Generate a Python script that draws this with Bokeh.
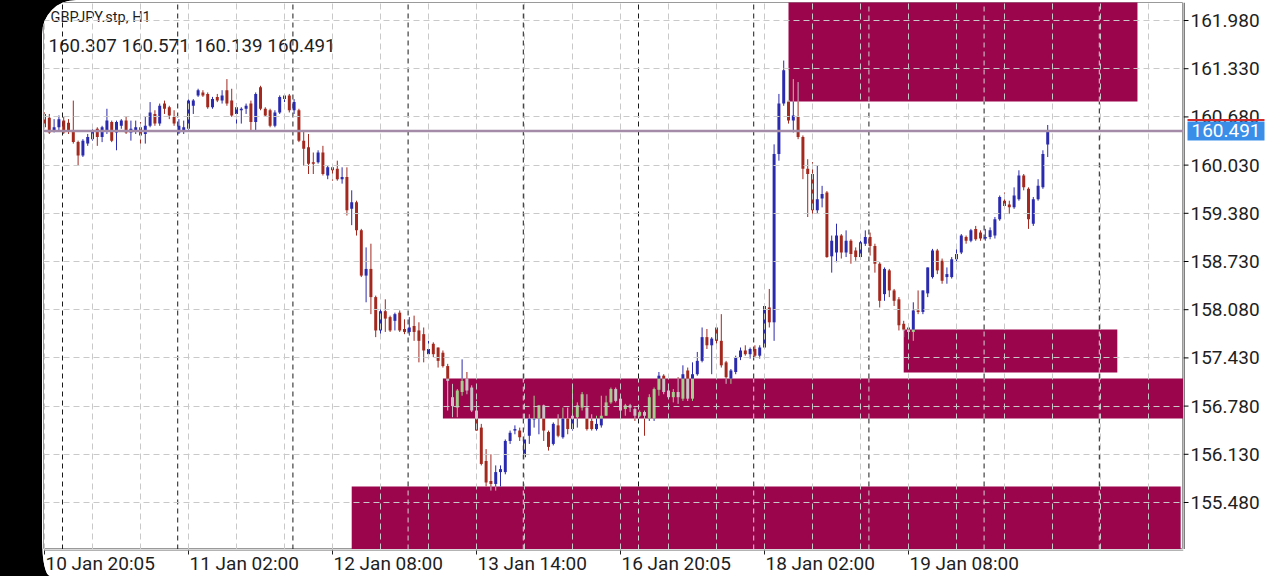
from bokeh.plotting import figure
from bokeh.models import (FixedTicker, Span, Range1d, ColumnDataSource, Spacer)
from bokeh.core.properties import value
from bokeh.layouts import row, column
from bokeh.embed import file_html
from bokeh.resources import INLINE

# ---------------- data ----------------
symbol = "GBPJPY.stp, H1"

opens = [160.72, 160.67, 160.50, 160.54, 160.63, 160.60, 160.50, 160.34, 160.16, 160.32,
         160.38, 160.52, 160.41, 160.50, 160.61, 160.47, 160.56, 160.63, 160.47, 160.50,
         160.54, 160.45, 160.56, 160.72, 160.59, 160.86, 160.81, 160.68, 160.47, 160.50,
         160.52, 160.83, 160.97, 161.01, 160.99, 160.81, 160.95, 160.90, 161.04, 160.90,
         160.72, 160.77, 160.79, 160.86, 160.61, 161.08, 160.79, 160.77, 160.56, 160.74,
         160.92, 160.97, 160.77, 160.77, 160.36, 160.27, 160.07, 160.07, 160.20, 159.89,
         160.00, 159.98, 159.84, 159.87, 159.44, 159.53, 159.15, 158.54, 158.63, 158.25,
         157.80, 158.06, 157.98, 157.93, 158.04, 157.82, 157.78, 157.86, 157.80, 157.75,
         157.48, 157.62, 157.57, 157.50, 157.32, 156.90, 156.76, 156.97, 157.15, 157.03,
         156.72, 156.49, 156.04, 155.77, 155.73, 155.89, 155.89, 156.31, 156.45, 156.45,
         156.09, 156.38, 156.60, 156.61, 156.79, 156.43, 156.27, 156.52, 156.36, 156.61,
         156.47, 156.63, 156.76, 156.76, 156.58, 156.47, 156.52, 156.65, 156.83, 157.01,
         156.88, 156.74, 156.79, 156.74, 156.65, 156.70, 156.61, 156.61, 157.00, 157.19,
         156.99, 156.90, 156.97, 156.88, 157.26, 156.88, 157.21, 157.39, 157.71, 157.60,
         157.84, 157.66, 157.37, 157.15, 157.24, 157.44, 157.53, 157.48, 157.55, 157.46,
         157.57, 158.11, 157.91, 160.18, 160.86, 160.90, 160.63, 160.68, 160.41, 159.98,
         159.91, 159.42, 159.58, 159.66, 158.80, 158.85, 159.08, 158.85, 159.01, 158.88,
         158.79, 158.97, 159.06, 158.94, 158.70, 158.29, 158.61, 158.34, 158.22, 157.89,
         157.84, 157.78, 158.07, 158.05, 158.30, 158.52, 158.88, 158.74, 158.52, 158.52,
         158.76, 158.85, 159.06, 159.01, 159.17, 159.12, 159.04, 159.06, 159.08, 159.30,
         159.55, 159.50, 159.46, 159.57, 159.89, 159.71, 159.24, 159.57, 159.73, 160.307]

highs = [160.74, 160.72, 160.65, 160.70, 160.68, 160.65, 160.90, 160.36, 160.38, 160.45,
         160.52, 160.54, 160.56, 160.79, 160.63, 160.63, 160.65, 160.68, 160.63, 160.63,
         160.61, 160.68, 160.88, 160.77, 160.86, 160.90, 160.83, 160.77, 160.65, 160.63,
         160.92, 160.92, 161.06, 161.04, 161.01, 160.95, 160.99, 161.04, 161.19, 161.06,
         160.86, 160.81, 160.86, 160.90, 161.01, 161.10, 160.81, 160.79, 160.77, 160.97,
         160.99, 160.99, 160.92, 160.79, 160.50, 160.45, 160.20, 160.23, 160.29, 160.02,
         160.02, 160.09, 160.00, 160.00, 159.69, 159.55, 159.17, 158.92, 158.97, 158.27,
         158.09, 158.22, 158.00, 158.04, 158.07, 157.95, 157.98, 158.00, 157.91, 157.84,
         157.66, 157.64, 157.57, 157.53, 157.35, 157.08, 157.01, 157.41, 157.24, 157.06,
         156.85, 156.54, 156.20, 156.13, 155.98, 155.98, 156.33, 156.45, 156.52, 156.49,
         156.40, 156.67, 156.92, 156.79, 156.80, 156.45, 156.56, 156.67, 156.76, 156.76,
         157.06, 156.83, 156.97, 156.94, 156.67, 156.65, 156.92, 156.92, 157.03, 157.03,
         156.92, 156.81, 156.81, 156.76, 156.72, 156.72, 156.94, 157.03, 157.24, 157.21,
         157.03, 157.01, 157.17, 157.33, 157.30, 157.37, 157.51, 157.84, 157.82, 157.71,
         157.87, 158.02, 157.39, 157.28, 157.46, 157.57, 157.60, 157.57, 157.60, 157.60,
         158.16, 158.36, 160.31, 160.99, 161.44, 161.31, 161.19, 161.15, 160.43, 160.11,
         160.07, 160.02, 159.75, 159.68, 159.08, 159.24, 159.10, 159.15, 159.03, 158.92,
         159.01, 159.15, 159.12, 158.97, 158.72, 158.65, 158.63, 158.36, 158.25, 157.93,
         157.89, 158.18, 158.34, 158.34, 158.65, 158.90, 158.90, 158.77, 158.65, 158.79,
         158.92, 159.10, 159.08, 159.17, 159.21, 159.15, 159.17, 159.19, 159.33, 159.62,
         159.66, 159.55, 159.73, 159.96, 159.91, 159.73, 159.60, 159.84, 160.23, 160.571]

lows = [160.52, 160.45, 160.47, 160.50, 160.45, 160.45, 160.32, 160.02, 160.14, 160.29,
        160.36, 160.29, 160.34, 160.45, 160.34, 160.23, 160.52, 160.45, 160.36, 160.45,
        160.27, 160.32, 160.54, 160.56, 160.56, 160.72, 160.65, 160.56, 160.45, 160.45,
        160.50, 160.72, 160.95, 160.95, 160.79, 160.79, 160.88, 160.86, 160.83, 160.68,
        160.54, 160.59, 160.72, 160.50, 160.50, 160.77, 160.68, 160.54, 160.54, 160.72,
        160.88, 160.74, 160.72, 160.34, 160.02, 159.91, 159.91, 160.05, 159.89, 159.84,
        159.82, 159.82, 159.78, 159.35, 159.22, 159.08, 158.52, 158.18, 158.02, 157.71,
        157.73, 157.78, 157.78, 157.80, 157.78, 157.75, 157.73, 157.66, 157.37, 157.37,
        157.44, 157.44, 157.30, 157.30, 156.72, 156.63, 156.63, 156.92, 156.94, 156.70,
        156.45, 155.98, 155.69, 155.64, 155.64, 155.69, 155.86, 156.27, 156.40, 156.31,
        156.07, 156.27, 156.49, 156.40, 156.31, 156.18, 156.25, 156.36, 156.34, 156.40,
        156.45, 156.49, 156.72, 156.45, 156.45, 156.45, 156.49, 156.65, 156.81, 156.83,
        156.65, 156.65, 156.70, 156.58, 156.63, 156.38, 156.58, 156.58, 156.92, 156.94,
        156.88, 156.83, 156.81, 156.85, 156.85, 156.85, 157.19, 157.37, 157.55, 157.21,
        157.62, 157.30, 157.08, 157.08, 157.21, 157.40, 157.46, 157.42, 157.44, 157.42,
        157.55, 157.84, 157.66, 160.09, 160.83, 160.59, 160.47, 160.38, 159.84, 159.33,
        159.33, 159.37, 159.46, 158.78, 158.58, 158.72, 158.77, 158.79, 158.70, 158.74,
        158.76, 158.94, 158.81, 158.58, 158.11, 158.20, 158.25, 158.13, 157.80, 157.71,
        157.71, 157.66, 158.02, 158.02, 158.25, 158.50, 158.56, 158.43, 158.43, 158.50,
        158.72, 158.83, 158.97, 158.99, 159.01, 159.01, 159.01, 159.03, 159.04, 159.28,
        159.48, 159.37, 159.44, 159.55, 159.69, 159.17, 159.21, 159.55, 159.71, 160.139]

closes = [160.54, 160.47, 160.54, 160.65, 160.47, 160.50, 160.34, 160.16, 160.36, 160.41,
          160.50, 160.41, 160.54, 160.63, 160.36, 160.61, 160.63, 160.47, 160.52, 160.54,
          160.43, 160.56, 160.74, 160.59, 160.83, 160.79, 160.70, 160.59, 160.56, 160.54,
          160.90, 160.90, 161.04, 160.97, 160.81, 160.92, 160.90, 160.97, 160.86, 160.70,
          160.81, 160.79, 160.83, 160.61, 160.99, 160.79, 160.70, 160.56, 160.74, 160.95,
          160.97, 160.77, 160.88, 160.36, 160.25, 160.05, 160.05, 160.20, 159.91, 160.00,
          159.96, 159.84, 159.87, 159.42, 159.53, 159.15, 158.54, 158.63, 158.25, 157.80,
          158.06, 157.96, 157.80, 158.02, 157.80, 157.78, 157.84, 157.78, 157.66, 157.53,
          157.55, 157.48, 157.39, 157.32, 157.12, 156.78, 156.99, 157.12, 156.99, 156.72,
          156.45, 156.00, 155.75, 155.73, 155.89, 155.93, 156.31, 156.42, 156.47, 156.36,
          156.33, 156.61, 156.62, 156.79, 156.45, 156.23, 156.54, 156.38, 156.61, 156.47,
          156.65, 156.79, 156.94, 156.47, 156.47, 156.54, 156.65, 156.83, 157.01, 156.85,
          156.72, 156.79, 156.76, 156.65, 156.70, 156.65, 156.90, 157.01, 157.19, 156.97,
          156.90, 156.97, 156.90, 157.21, 156.88, 157.21, 157.39, 157.71, 157.60, 157.69,
          157.66, 157.33, 157.17, 157.26, 157.44, 157.53, 157.48, 157.55, 157.46, 157.57,
          158.13, 157.91, 160.18, 160.86, 161.31, 160.63, 160.70, 160.41, 159.98, 159.91,
          159.42, 159.57, 159.64, 158.79, 159.01, 159.08, 158.85, 159.01, 158.83, 158.79,
          158.99, 159.06, 158.94, 158.70, 158.20, 158.63, 158.34, 158.20, 157.87, 157.80,
          157.78, 158.07, 158.05, 158.34, 158.65, 158.88, 158.61, 158.47, 158.56, 158.76,
          158.83, 159.08, 159.01, 159.15, 159.03, 159.04, 159.06, 159.15, 159.30, 159.60,
          159.48, 159.46, 159.62, 159.89, 159.73, 159.30, 159.57, 159.75, 160.18, 160.491]

x_tick_idx = [0, 30, 60, 90, 120, 150, 180]
x_tick_labels = ["10 Jan 20:05", "11 Jan 02:00", "12 Jan 08:00", "13 Jan 14:00",
                 "16 Jan 20:05", "18 Jan 02:00", "19 Jan 08:00"]
y_ticks = [155.48, 156.13, 156.78, 157.43, 158.08, 158.73, 159.38, 160.03, 160.68, 161.33, 161.98]
separator_idx = [3.75, 27.75, 51.75, 75.75, 99.75, 123.75, 147.75, 171.75, 195.75, 219.75]

zone_left = [155.0, 179.0, 83.0, 64.0]
zone_right = [227.7, 223.5, 240.0, 236.7]
zone_bottom = [160.888, 157.233, 156.612, 154.0]
zone_top = [163.0, 157.813, 157.152, 155.696]

bid = closes[-1]
ask = 160.638

# ---------------- styles ----------------
FONT = "Roboto"
BULL, BEAR = "#2a2aae", "#a3281e"
BULL_IN, BEAR_IN = "#a2d08c", "#c9c3c6"
ZONE = "#9b054b"
GRID = "#c9c9c9"
TXT = "#1e1e1e"

X0, X1 = -0.21, 237.29
Y0, Y1 = 154.846, 162.223
xr = Range1d(X0, X1)
yr = Range1d(Y0, Y1)


def split_by_zones(x, lo, hi):
    pieces = [(lo, hi, False)]
    for zl, zr, zb, zt in zip(zone_left, zone_right, zone_bottom, zone_top):
        if not (zl <= x <= zr):
            continue
        out = []
        for a, b, inside in pieces:
            if inside:
                out.append((a, b, True))
                continue
            s, e = max(a, zb), min(b, zt)
            if s < e:
                if a < s:
                    out.append((a, s, False))
                out.append((s, e, True))
                if e < b:
                    out.append((e, b, False))
            else:
                out.append((a, b, False))
        pieces = out
    return pieces


def bare(**kw):
    f = figure(output_backend="svg", toolbar_location=None, x_axis_location=None,
               y_axis_location=None, background_fill_color="white", border_fill_color="white",
               min_border=0, **kw)
    return f


# ---------------- main price panel ----------------
p = bare(width=1141, height=549, x_range=xr, y_range=yr, min_border_left=1, min_border_top=2)
p.outline_line_color = "#9a9a9a"
p.outline_line_width = 1

p.xgrid.ticker = FixedTicker(ticks=list(range(0, 240, 10)))
p.ygrid.ticker = FixedTicker(ticks=y_ticks)
for g in (p.xgrid, p.ygrid):
    g.grid_line_color = GRID
    g.grid_line_dash = "6 4"
    g.grid_line_width = 1
    g.level = "glyph"

p.quad(left=zone_left, right=zone_right, bottom=zone_bottom, top=zone_top,
       fill_color=ZONE, line_color=None, level="underlay")

sep = dict(x=[], y0=[], y1=[], c=[])
for sx in separator_idx:
    for a, b, inside in split_by_zones(sx, Y0, Y1):
        sep["x"].append(sx); sep["y0"].append(a); sep["y1"].append(b)
        sep["c"].append("#d4d4d4" if inside else "#1a1a1a")
p.segment(x0="x", y0="y0", x1="x", y1="y1", line_color="c", line_dash="5 4",
          line_width=1, source=ColumnDataSource(sep))

wick = dict(x=[], y0=[], y1=[], c=[])
body = dict(x=[], bottom=[], top=[], c=[])
MIN_BODY = 0.014
for i, (o, h, l, c) in enumerate(zip(opens, highs, lows, closes)):
    bull = c >= o
    col_out = BULL if bull else BEAR
    col_in = BULL_IN if bull else BEAR_IN
    for a, b, inside in split_by_zones(i, l, h):
        wick["x"].append(i); wick["y0"].append(a); wick["y1"].append(b)
        wick["c"].append(col_in if inside else col_out)
    bb, bt = min(o, c), max(o, c)
    if bt - bb < MIN_BODY:
        m = (bb + bt) / 2
        bb, bt = m - MIN_BODY / 2, m + MIN_BODY / 2
    for a, b, inside in split_by_zones(i, bb, bt):
        body["x"].append(i); body["bottom"].append(a); body["top"].append(b)
        body["c"].append(col_in if inside else col_out)

p.segment(x0="x", y0="y0", x1="x", y1="y1", line_color="c", line_width=1,
          source=ColumnDataSource(wick))
p.vbar(x="x", bottom="bottom", top="top", width=0.62, fill_color="c", line_color=None,
       source=ColumnDataSource(body))

p.add_layout(Span(location=bid, dimension="width", line_color="#a48ca8", line_width=2.5))

header = f"{opens[-1]:.3f} {highs[-1]:.3f} {lows[-1]:.3f} {closes[-1]:.3f}"
p.text(x=[X0], y=[Y1], text=[symbol], x_offset=7, y_offset=15, text_font=value(FONT),
       text_font_size="14.5px", text_color=TXT, text_baseline="middle")
p.text(x=[X0], y=[Y1], text=[header], x_offset=5, y_offset=43, text_font=value(FONT),
       text_font_size="18.8px", text_color=TXT, text_baseline="middle")

# ---------------- right price scale ----------------
ys = bare(width=97, height=549, x_range=Range1d(0, 97), y_range=yr, min_border_top=2)
ys.outline_line_color = None
ys.grid.visible = False
ys.add_layout(Span(location=0.5, dimension="height", line_color="black", line_width=1))
ys.segment(x0=[0] * len(y_ticks), x1=[5] * len(y_ticks), y0=y_ticks, y1=y_ticks,
           line_color="black", line_width=1)
ys.text(x=[7] * len(y_ticks), y=y_ticks, text=[f"{v:.3f}" for v in y_ticks],
        text_font=value(FONT), text_font_size="19px", text_color=TXT, text_baseline="middle")
ys.segment(x0=[4], x1=[81], y0=[ask], y1=[ask], line_color="#d42a2a", line_width=2)
ys.rect(x=[42.5], y=[bid], width=77, height=19, height_units="screen",
        fill_color="#3a8ee8", line_color=None)
ys.text(x=[42.5], y=[bid], text=[f"{bid:.3f}"], text_font=value(FONT), text_font_size="19px",
        text_color="white", text_align="center", text_baseline="middle")

# ---------------- bottom time scale ----------------
xs = bare(width=1238, height=27, x_range=xr, y_range=Range1d(27, 0),
          min_border_left=1, min_border_right=97)
xs.outline_line_color = None
xs.grid.visible = False
xs.add_layout(Span(location=0.6, dimension="width", line_color="#9a9a9a", line_width=1.5))
xs.segment(x0=x_tick_idx, x1=x_tick_idx, y0=[0] * len(x_tick_idx), y1=[5] * len(x_tick_idx),
           line_color="#222222", line_width=1)
xs.text(x=x_tick_idx, y=[14] * len(x_tick_idx), text=x_tick_labels, x_offset=1,
        text_font=value(FONT), text_font_size="19px", text_color=TXT,
        text_align="left", text_baseline="middle")

col = column(row(p, ys), xs)
col.styles = {"border-radius": "34px 0 0 8px / 34px 0 0 36px", "overflow": "hidden",
              "background": "white"}
page = row(Spacer(width=42, height=576), col)

html = file_html(page, INLINE, title="GBPJPY H1")
html = html.replace("</head>",
                    "<style>html,body{margin:0;padding:0;background:#000;overflow:hidden;}</style></head>", 1)
open("out.html", "w").write(html)
